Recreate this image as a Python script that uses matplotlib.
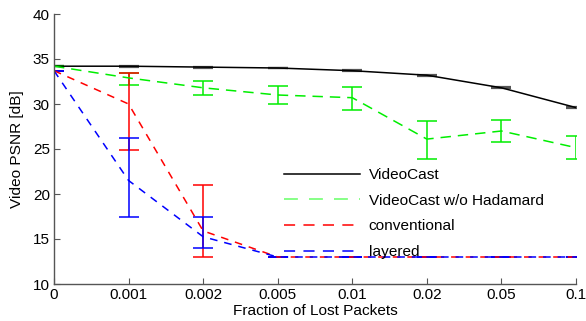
import matplotlib
matplotlib.use("Agg")
import matplotlib.pyplot as plt
from matplotlib.lines import Line2D
import numpy as np

plt.rcParams['font.family'] = ['Liberation Sans', 'DejaVu Sans']
plt.rcParams['lines.scale_dashes'] = False

x_labels = ['0', '0.001', '0.002', '0.005', '0.01', '0.02', '0.05', '0.1']

videocast = [34.2, 34.2, 34.1, 34.0, 33.7, 33.2, 31.8, 29.6]
videocast_err = [0.0, 0.05, 0.05, 0.05, 0.05, 0.05, 0.05, 0.05]

nohad = [34.2, 32.9, 31.8, 31.0, 30.7, 26.1, 27.0, 25.15]
nohad_lo = [0.0, 0.8, 0.8, 1.0, 1.4, 2.2, 1.2, 1.25]
nohad_hi = [0.0, 0.6, 0.75, 1.0, 1.2, 2.0, 1.2, 1.25]

conventional = [33.7, 30.0, 15.9, 13.0, 13.0, 13.0, 13.0, 13.0]
conv_lo = [0.0, 5.1, 2.9, 0.0, 0.0, 0.0, 0.0, 0.0]
conv_hi = [0.0, 3.5, 5.1, 0.0, 0.0, 0.0, 0.0, 0.0]

layered = [33.7, 21.5, 15.25, 13.0, 13.0, 13.0, 13.0, 13.0]
lay_lo = [0.0, 4.0, 1.25, 0.0, 0.0, 0.0, 0.0, 0.0]
lay_hi = [0.0, 4.75, 2.2, 0.0, 0.0, 0.0, 0.0, 0.0]

series_names = ['VideoCast', 'VideoCast w/o Hadamard', 'conventional', 'layered']

fs = 11.1
fig = plt.figure(figsize=(5.86, 3.21), dpi=100)
ax = fig.add_axes([54/586, 1-284/321, (576-54)/586, (284-14)/321])

xs = np.arange(len(x_labels))
lw = 1.1
cap = 7

ax.errorbar(xs, videocast, yerr=videocast_err, color='black', lw=lw,
            capsize=cap, elinewidth=lw, capthick=1.6, ecolor='#555555')
e = ax.errorbar(xs, nohad, yerr=[nohad_lo, nohad_hi], color='#00ee00', lw=lw,
                capsize=cap, elinewidth=lw, capthick=lw)
e.lines[0].set_dashes((7.5, 5))
e = ax.errorbar(xs, conventional, yerr=[conv_lo, conv_hi], color='#ff0000', lw=lw,
                capsize=cap, elinewidth=lw, capthick=lw)
e.lines[0].set_dashes((5.5, 5))
e = ax.errorbar(xs, layered, yerr=[lay_lo, lay_hi], color='#0000ff', lw=lw,
                capsize=cap, elinewidth=lw, capthick=lw)
e.lines[0].set_dashes((5.5, 5))

ax.set_xlim(0, 7)
ax.set_ylim(10, 40)
ax.set_xticks(xs)
ax.set_xticklabels(x_labels)
ax.set_yticks([10, 15, 20, 25, 30, 35, 40])
ax.tick_params(direction='in', length=4, labelsize=11, color='#555555', pad=3)
for s in ['top', 'right']:
    ax.spines[s].set_visible(False)
for s in ['left', 'bottom']:
    ax.spines[s].set_color('#555555')
    ax.spines[s].set_linewidth(1.0)

ax.set_xlabel('Fraction of Lost Packets', fontsize=fs, labelpad=1.5)
ax.set_ylabel('Video PSNR [dB]', fontsize=fs, labelpad=6)

handles = [
    Line2D([], [], color='black', lw=lw),
    Line2D([], [], color='#66ff66', lw=lw, dashes=(10, 8)),
    Line2D([], [], color='#ff0000', lw=lw, dashes=(8, 6)),
    Line2D([], [], color='#0000ff', lw=lw, dashes=(8, 6)),
]
fig.legend(handles, series_names, loc='upper left',
           bbox_to_anchor=(284/586, 1-168/321), frameon=False,
           fontsize=fs, handlelength=4.95, handletextpad=0.55,
           borderpad=0, borderaxespad=0, labelspacing=0.76)

fig.savefig('out.png', dpi=100)
